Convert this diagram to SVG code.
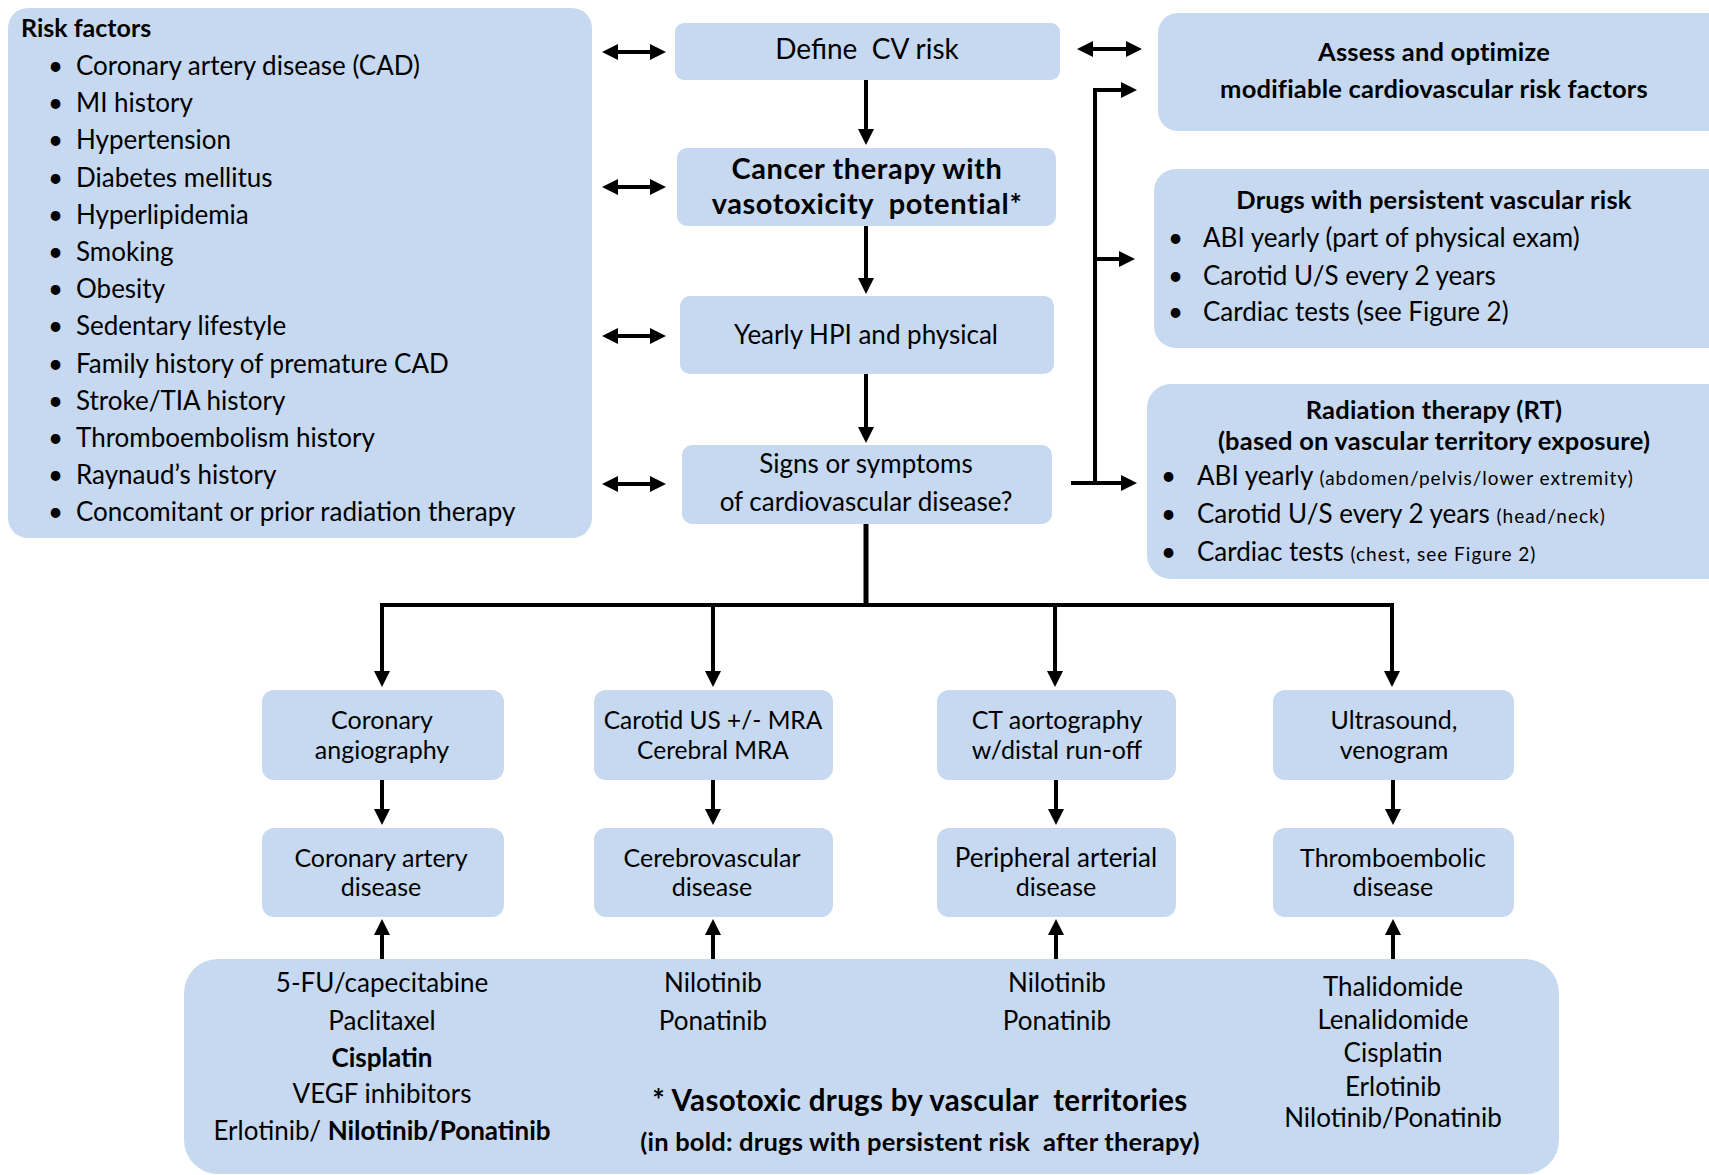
<svg xmlns="http://www.w3.org/2000/svg" width="1709" height="1175" viewBox="0 0 1709 1175">
<style>
.box{fill:#c6d9f0}
text{font-family:Lato,"Liberation Sans",sans-serif;fill:#000}
.t{font-size:26px}
.r{font-size:26px}
.m{font-size:25px}
.c{text-anchor:middle}
.b{font-weight:bold}
.hb{font-weight:bold;font-size:25.5px;letter-spacing:0.2px}
.sm{font-size:19px;letter-spacing:1px}
.ln{stroke:#000;stroke-width:4;fill:none}
.thk{stroke:#000;stroke-width:5;fill:none}
</style>
<defs>
<marker id="ah" markerUnits="userSpaceOnUse" markerWidth="16" markerHeight="16" viewBox="0 0 16 16" refX="4" refY="8" orient="auto-start-reverse"><path d="M0,0 L16,8 L0,16 z" fill="#000"/></marker>
</defs>

<g id="risk-factors">
<rect class="box" x="8" y="8" width="584" height="530" rx="20"/>
<text class="b" x="21" y="37" font-size="25">Risk factors</text>
<g class="t">
<text x="48" y="75">•</text><text x="76" y="75">Coronary artery disease (CAD)</text>
<text x="48" y="112">•</text><text x="76" y="112">MI history</text>
<text x="48" y="149">•</text><text x="76" y="149">Hypertension</text>
<text x="48" y="187">•</text><text x="76" y="187">Diabetes mellitus</text>
<text x="48" y="224">•</text><text x="76" y="224">Hyperlipidemia</text>
<text x="48" y="261">•</text><text x="76" y="261">Smoking</text>
<text x="48" y="298">•</text><text x="76" y="298">Obesity</text>
<text x="48" y="335">•</text><text x="76" y="335">Sedentary lifestyle</text>
<text x="48" y="373">•</text><text x="76" y="373">Family history of premature CAD</text>
<text x="48" y="410">•</text><text x="76" y="410">Stroke/TIA history</text>
<text x="48" y="447">•</text><text x="76" y="447">Thromboembolism history</text>
<text x="48" y="484">•</text><text x="76" y="484">Raynaud’s history</text>
<text x="48" y="521">•</text><text x="76" y="521">Concomitant or prior radiation therapy</text>
</g>
</g>

<g id="define-cv-risk">
<rect class="box" x="675" y="23" width="385" height="57" rx="9"/>
<text class="c" x="867" y="59" font-size="28">Define&#160; CV risk</text>
</g>
<g id="cancer-therapy">
<rect class="box" x="677" y="148" width="379" height="78" rx="10"/>
<text class="c b" x="867" y="179" font-size="29" letter-spacing="0.6">Cancer therapy with</text>
<text class="c b" x="867" y="214" font-size="29" letter-spacing="0.6">vasotoxicity&#160; potential*</text>
</g>
<g id="yearly-hpi">
<rect class="box" x="680" y="296" width="374" height="78" rx="10"/>
<text class="c r" x="866" y="344">Yearly HPI and physical</text>
</g>
<g id="signs-symptoms">
<rect class="box" x="682" y="445" width="370" height="79" rx="10"/>
<text class="c r" x="866" y="473">Signs or symptoms</text>
<text class="c r" x="866" y="511">of cardiovascular disease?</text>
</g>

<g id="assess">
<rect class="box" x="1158" y="13" width="580" height="118" rx="20"/>
<text class="c hb" x="1434" y="61">Assess and optimize</text>
<text class="c hb" x="1434" y="98">modifiable cardiovascular risk factors</text>
</g>
<g id="drugs-persistent">
<rect class="box" x="1154" y="169" width="580" height="179" rx="22"/>
<text class="c hb" x="1434" y="209">Drugs with persistent vascular risk</text>
<g class="r">
<text x="1168" y="247">•</text><text x="1203" y="247">ABI yearly (part of physical exam)</text>
<text x="1168" y="285">•</text><text x="1203" y="285">Carotid U/S every 2 years</text>
<text x="1168" y="321">•</text><text x="1203" y="321">Cardiac tests (see Figure 2)</text>
</g>
</g>
<g id="radiation">
<rect class="box" x="1147" y="384" width="590" height="195" rx="24"/>
<text class="c hb" x="1434" y="419">Radiation therapy (RT)</text>
<text class="c hb" x="1434" y="450">(based on vascular territory exposure)</text>
<g class="r">
<text x="1161" y="485">•</text><text x="1197" y="485">ABI yearly <tspan class="sm">(abdomen/pelvis/lower extremity)</tspan></text>
<text x="1161" y="523">•</text><text x="1197" y="523">Carotid U/S every 2 years <tspan class="sm">(head/neck)</tspan></text>
<text x="1161" y="561">•</text><text x="1197" y="561">Cardiac tests <tspan class="sm">(chest, see Figure 2)</tspan></text>
</g>
</g>

<g id="coronary-angiography">
<rect class="box" x="262" y="690" width="242" height="90" rx="12"/>
<text class="c m" x="382" y="729">Coronary</text>
<text class="c m" x="382" y="759">angiography</text>
</g>
<g id="carotid-us">
<rect class="box" x="594" y="690" width="239" height="90" rx="12"/>
<text class="c" x="713" y="729" font-size="24.5">Carotid US +/- MRA</text>
<text class="c" x="713" y="759" font-size="24.5">Cerebral MRA</text>
</g>
<g id="ct-aortography">
<rect class="box" x="937" y="690" width="239" height="90" rx="12"/>
<text class="c m" x="1057" y="729">CT aortography</text>
<text class="c m" x="1057" y="759">w/distal run-off</text>
</g>
<g id="ultrasound">
<rect class="box" x="1273" y="690" width="241" height="90" rx="12"/>
<text class="c m" x="1394" y="729">Ultrasound,</text>
<text class="c m" x="1394" y="759">venogram</text>
</g>

<g id="cad">
<rect class="box" x="262" y="828" width="242" height="89" rx="12"/>
<text class="c m" x="381" y="867">Coronary artery</text>
<text class="c m" x="381" y="896">disease</text>
</g>
<g id="cerebrovascular">
<rect class="box" x="594" y="828" width="239" height="89" rx="12"/>
<text class="c m" x="712" y="867">Cerebrovascular</text>
<text class="c m" x="712" y="896">disease</text>
</g>
<g id="pad">
<rect class="box" x="937" y="828" width="239" height="89" rx="12"/>
<text class="c" x="1056" y="867" font-size="26">Peripheral arterial</text>
<text class="c m" x="1056" y="896">disease</text>
</g>
<g id="thromboembolic">
<rect class="box" x="1273" y="828" width="241" height="89" rx="12"/>
<text class="c m" x="1393" y="867">Thromboembolic</text>
<text class="c m" x="1393" y="896">disease</text>
</g>

<g id="vasotoxic-drugs">
<rect class="box" x="184" y="959" width="1375" height="215" rx="34"/>
<g class="r">
<text class="c" x="382" y="992">5-FU/capecitabine</text>
<text class="c" x="382" y="1030">Paclitaxel</text>
<text class="c b" x="382" y="1067">Cisplatin</text>
<text class="c" x="382" y="1103">VEGF inhibitors</text>
<text class="c" x="382" y="1140">Erlotinib/ <tspan class="b">Nilotinib/Ponatinib</tspan></text>
<text class="c" x="713" y="992">Nilotinib</text>
<text class="c" x="713" y="1030">Ponatinib</text>
<text class="c" x="1057" y="992">Nilotinib</text>
<text class="c" x="1057" y="1030">Ponatinib</text>
<text class="c" x="1393" y="996">Thalidomide</text>
<text class="c" x="1393" y="1029">Lenalidomide</text>
<text class="c" x="1393" y="1062">Cisplatin</text>
<text class="c" x="1393" y="1096">Erlotinib</text>
<text class="c" x="1393" y="1127">Nilotinib/Ponatinib</text>
</g>
<text class="c b" x="920" y="1111" font-size="29.5" letter-spacing="0.3">* Vasotoxic drugs by vascular&#160; territories</text>
<text class="c b" x="920" y="1151" font-size="25.5" letter-spacing="0.2">(in bold: drugs with persistent risk&#160; after therapy)</text>
</g>

<g id="connectors">
<line class="ln" x1="614" y1="52" x2="654" y2="52" marker-start="url(#ah)" marker-end="url(#ah)"/>
<line class="ln" x1="614" y1="187" x2="654" y2="187" marker-start="url(#ah)" marker-end="url(#ah)"/>
<line class="ln" x1="614" y1="336" x2="654" y2="336" marker-start="url(#ah)" marker-end="url(#ah)"/>
<line class="ln" x1="614" y1="484" x2="654" y2="484" marker-start="url(#ah)" marker-end="url(#ah)"/>
<line class="ln" x1="1089" y1="49" x2="1130" y2="49" marker-start="url(#ah)" marker-end="url(#ah)"/>
<line class="ln" x1="866" y1="80" x2="866" y2="133" marker-end="url(#ah)"/>
<line class="ln" x1="866" y1="226" x2="866" y2="282" marker-end="url(#ah)"/>
<line class="ln" x1="866" y1="374" x2="866" y2="431" marker-end="url(#ah)"/>
<polyline class="ln" points="1125,90 1095,90 1095,483"/>
<line class="ln" x1="1093" y1="90" x2="1125" y2="90" marker-end="url(#ah)"/>
<line class="ln" x1="1095" y1="259" x2="1123" y2="259" marker-end="url(#ah)"/>
<line class="ln" x1="1071" y1="483" x2="1125" y2="483" marker-end="url(#ah)"/>
<line class="thk" x1="866" y1="524" x2="866" y2="607"/>
<polyline class="ln" points="382,675 382,605 1392,605 1392,675"/>
<line class="ln" x1="713" y1="605" x2="713" y2="675" marker-end="url(#ah)"/>
<line class="ln" x1="1055" y1="605" x2="1055" y2="675" marker-end="url(#ah)"/>
<line class="ln" x1="382" y1="660" x2="382" y2="675" marker-end="url(#ah)"/>
<line class="ln" x1="1392" y1="660" x2="1392" y2="675" marker-end="url(#ah)"/>
<line class="ln" x1="382" y1="780" x2="382" y2="813" marker-end="url(#ah)"/>
<line class="ln" x1="713" y1="780" x2="713" y2="813" marker-end="url(#ah)"/>
<line class="ln" x1="1056" y1="780" x2="1056" y2="813" marker-end="url(#ah)"/>
<line class="ln" x1="1393" y1="780" x2="1393" y2="813" marker-end="url(#ah)"/>
<line class="ln" x1="382" y1="959" x2="382" y2="931" marker-end="url(#ah)"/>
<line class="ln" x1="713" y1="959" x2="713" y2="931" marker-end="url(#ah)"/>
<line class="ln" x1="1056" y1="959" x2="1056" y2="931" marker-end="url(#ah)"/>
<line class="ln" x1="1393" y1="959" x2="1393" y2="931" marker-end="url(#ah)"/>
</g>
</svg>
